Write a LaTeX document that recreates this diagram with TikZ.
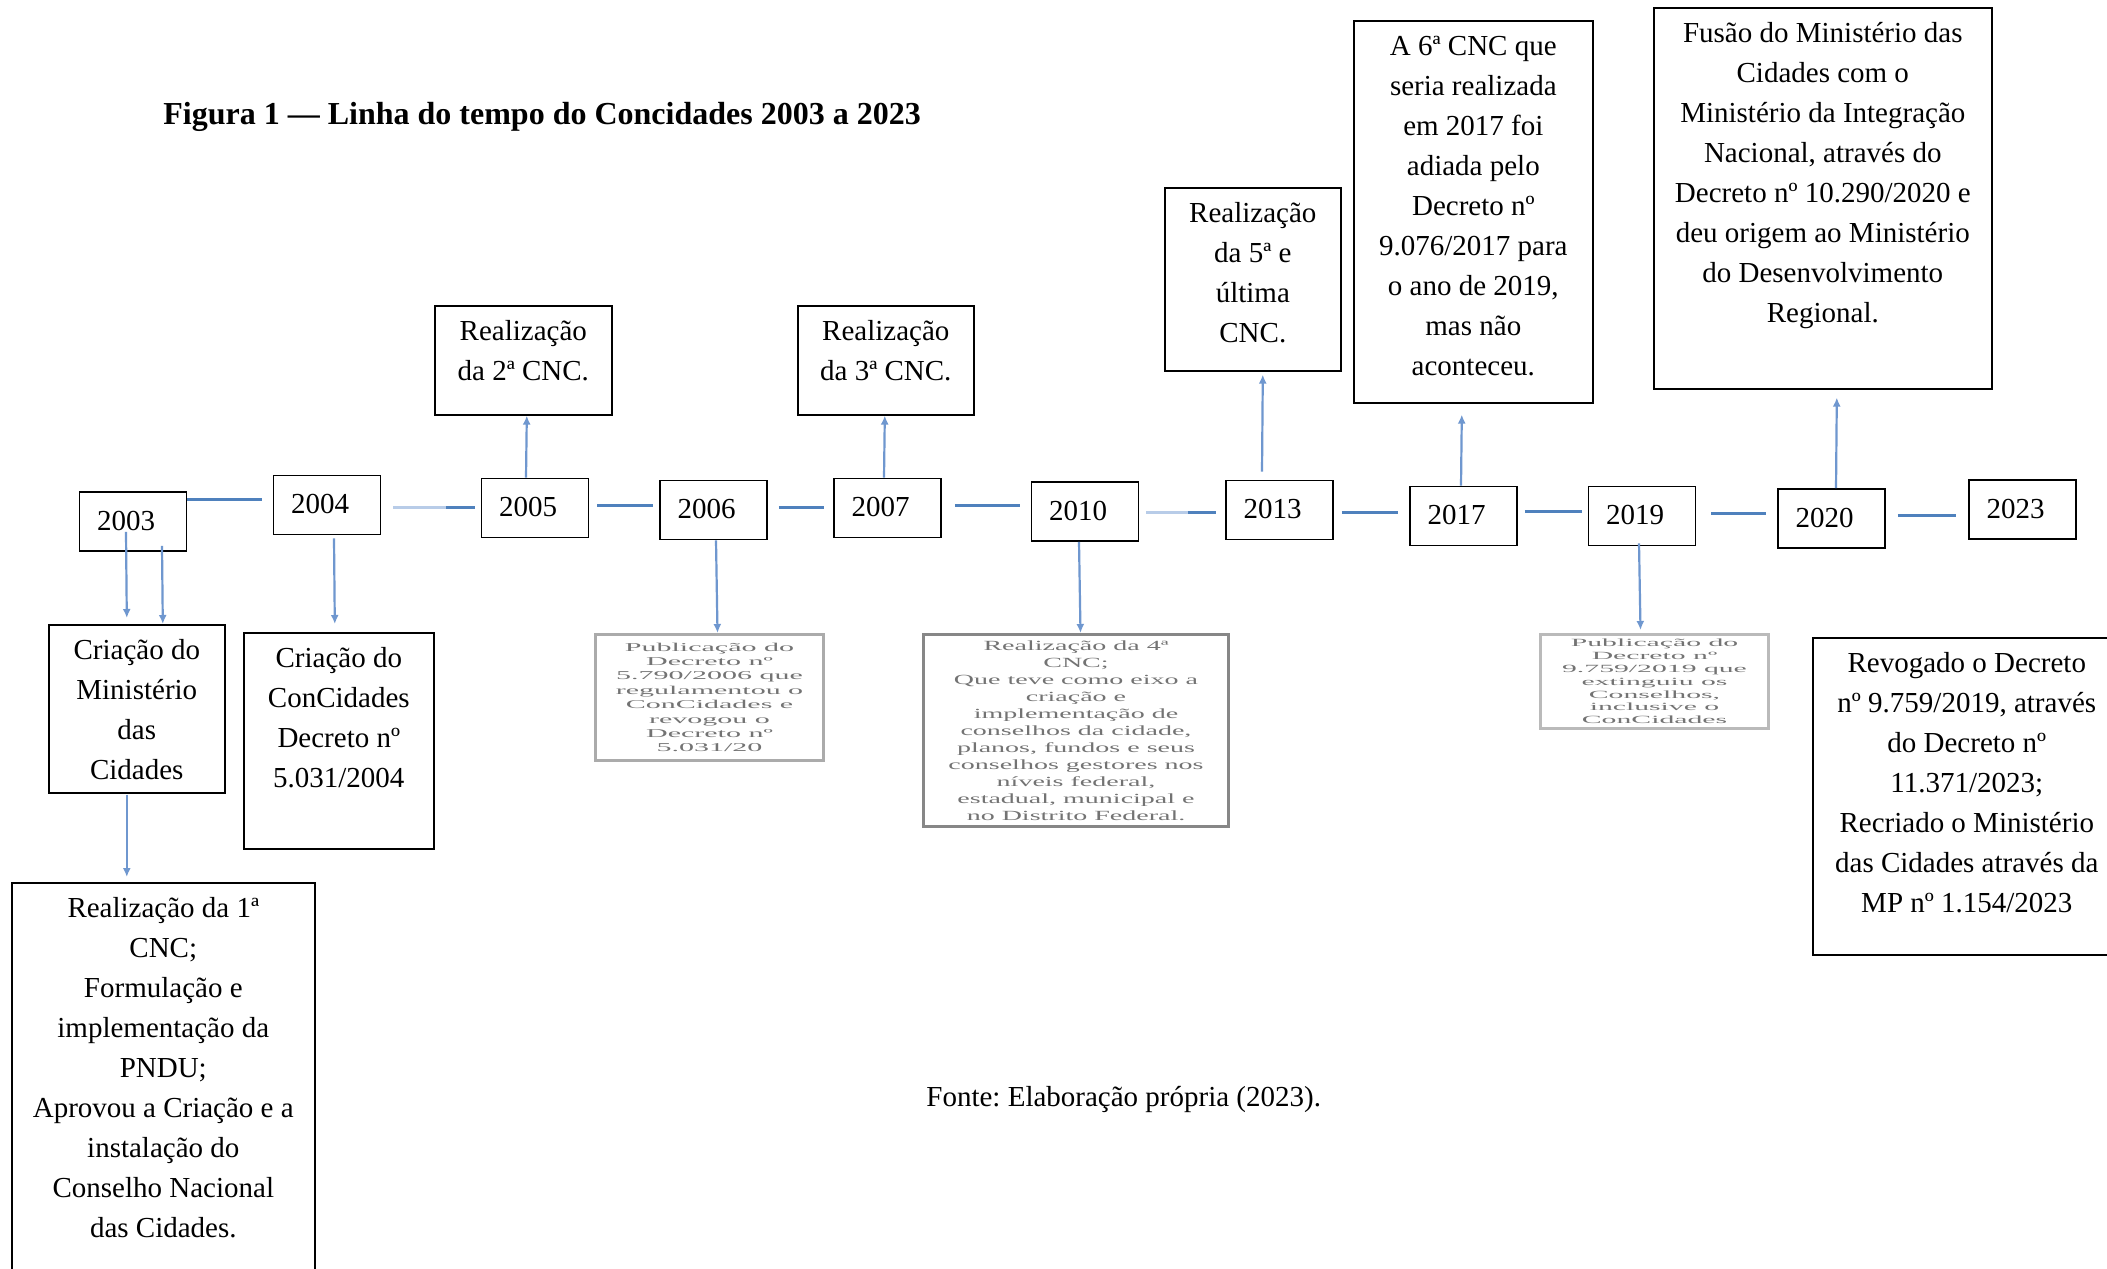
\documentclass[tikz,border=0pt]{standalone}
\usepackage{graphicx}
\usepackage{fontspec}
\setmainfont{Liberation Serif}
\frenchspacing
\usetikzlibrary{calc,arrows.meta}
\definecolor{tlblue}{HTML}{4F81BD}
\definecolor{arblue}{HTML}{6F97CF}
\definecolor{tllight}{HTML}{B8CCE8}
\newcommand{\tb}[3]{\parbox[c][#2][t]{#1}{\centering\rule{0pt}{17.5pt}#3}}
\newcommand{\yt}[1]{\kern-7pt\raisebox{1pt}{#1}}
\tikzset{
 yr/.style={draw, line width=0.8pt, minimum width=53.5pt, minimum height=29.5pt, inner sep=0pt, font=\fontsize{14.5}{20}\selectfont},
 tbox/.style={draw, line width=0.8pt, inner sep=0pt, anchor=north west, font=\fontsize{14.5}{20}\selectfont},
 gbox/.style={draw, line width=1.5pt, inner sep=0pt, anchor=north west, text=black!55},
 tl/.style={draw=tlblue, line width=1.5pt},
 tllt/.style={draw=tllight, line width=1.5pt},
 arr/.style={draw=arblue, line width=1.1pt, -{Latex[length=4.5pt,width=4pt]}},
}
\begin{document}
\begin{tikzpicture}[x=0.5pt,y=-0.5pt]
\useasboundingbox (0,0) rectangle (2107,1268);
\fill[white] (0,0) rectangle (2107,1268);

\node[anchor=west, inner sep=0pt, font=\fontsize{16}{19}\selectfont\bfseries] (title) at (163,117) {Figura 1 — Linha do tempo do Concidades 2003 a 2023};

% year boxes
\node[yr] (y2003) at (133,521.5) {\yt{2003}};
\node[yr] (y2004) at (327,505) {\yt{2004}};
\node[yr] (y2005) at (535,508) {\yt{2005}};
\node[yr] (y2006) at (713.5,510) {\yt{2006}};
\node[yr] (y2007) at (887.5,508) {\yt{2007}};
\node[yr] (y2010) at (1085,511.5) {\yt{2010}};
\node[yr] (y2013) at (1279.5,510) {\yt{2013}};
\node[yr] (y2017) at (1463.5,516) {\yt{2017}};
\node[yr] (y2019) at (1642,516) {\yt{2019}};
\node[yr] (y2020) at (1831.5,518.5) {\yt{2020}};
\node[yr] (y2023) at (2022.5,509.5) {\yt{2023}};

% text boxes
\node[tbox] (min) at (48,624) {\tb{88pt}{84pt}{Criação do\\Ministério\\das\\Cidades}};
\node[tbox] (cc) at (243,632) {\tb{95pt}{108pt}{Criação do\\ConCidades\\Decreto nº\\5.031/2004}};
\node[tbox] (c1) at (11,882) {\tb{151.5pt}{210pt}{Realização da 1ª\\CNC;\\Formulação e\\implementação da\\PNDU;\\Aprovou a Criação e a\\instalação do\\Conselho Nacional\\das Cidades.}};
\node[tbox] (r2) at (434,305) {\tb{88.5pt}{54.5pt}{Realização\\da 2ª CNC.}};
\node[tbox] (r3) at (797,305) {\tb{88pt}{54.5pt}{Realização\\da 3ª CNC.}};
\node[tbox] (r5) at (1164,187) {\tb{88pt}{91.5pt}{Realização\\da 5ª e\\última\\CNC.}};
\node[tbox] (c6) at (1353,20) {\tb{119.5pt}{191pt}{A 6ª CNC que\\seria realizada\\em 2017 foi\\adiada pelo\\Decreto nº\\9.076/2017 para\\o ano de 2019,\\mas não\\aconteceu.}};
\node[tbox] (fus) at (1653,7) {\tb{169pt}{190.5pt}{Fusão do Ministério das\\Cidades com o\\Ministério da Integração\\Nacional, através do\\Decreto nº 10.290/2020 e\\deu origem ao Ministério\\do Desenvolvimento\\Regional.}};
\node[tbox] (rev) at (1812,637) {\tb{154pt}{158.5pt}{Revogado o Decreto\\nº 9.759/2019, através\\do Decreto nº\\11.371/2023;\\Recriado o Ministério\\das Cidades através da\\MP nº 1.154/2023}};

% grey boxes
\node[gbox, draw=black!33, minimum width=114pt, minimum height=63pt] (d06) at (594,633) {\scalebox{2.5}[1]{\parbox{44pt}{\centering\fontsize{6}{7.2}\selectfont Publicação do\\Decreto nº\\5.790/2006 que\\regulamentou o\\ConCidades e\\revogou o\\Decreto nº\\5.031/20}}};
\node[gbox, draw=black!47, minimum width=152.5pt, minimum height=96pt] (d10) at (922,633) {\scalebox{2.0}[1]{\parbox{74pt}{\centering\fontsize{7}{8.5}\selectfont Realização da 4ª\\CNC;\\Que teve como eixo a\\criação e\\implementação de\\conselhos da cidade,\\planos, fundos e seus\\conselhos gestores nos\\níveis federal,\\estadual, municipal e\\no Distrito Federal.}}};
\node[gbox, draw=black!27, minimum width=114pt, minimum height=47pt] (d19) at (1539,633) {\scalebox{2.7}[1]{\parbox{41pt}{\centering\fontsize{5.5}{6.4}\selectfont Publicação do\\Decreto nº\\9.759/2019 que\\extinguiu os\\Conselhos,\\inclusive o\\ConCidades}}};

\node[anchor=west, inner sep=0pt, font=\fontsize{14.5}{18}\selectfont] (fonte) at (926,1099) {Fonte: Elaboração própria (2023).};

% timeline connectors
\draw[tl] ($(y2003.east)+(0,-22.5)$) -- ($(y2004.west)+(-11,-6)$);
\coordinate (s2a) at ($(y2004.east)+(12,2)$);
\coordinate (s2b) at ($(y2005.west)+(-6,-1)$);
\draw[tllt] (s2a) -- (s2b);
\draw[tl] ($(s2a)!0.65!(s2b)$) -- (s2b);
\draw[tl] ($(y2005.east)+(8,-3)$) -- ($(y2006.west)+(-6,-5)$);
\draw[tl] ($(y2006.east)+(11,-3)$) -- ($(y2007.west)+(-9,-1)$);
\draw[tl] ($(y2007.east)+(13,-3)$) -- ($(y2010.west)+(-11,-6.5)$);
\coordinate (s6a) at ($(y2010.east)+(7,0.5)$);
\coordinate (s6b) at ($(y2013.west)+(-9,2)$);
\draw[tllt] (s6a) -- (s6b);
\draw[tl] ($(s6a)!0.6!(s6b)$) -- (s6b);
\draw[tl] ($(y2013.east)+(8,2)$) -- ($(y2017.west)+(-11,-4)$);
\draw[tl] ($(y2017.east)+(7,-5)$) -- ($(y2019.west)+(-6,-5)$);
\draw[tl] ($(y2019.east)+(15,-3)$) -- ($(y2020.west)+(-11,-5.5)$);
\draw[tl] ($(y2020.east)+(12,-3.5)$) -- ($(y2023.west)+(-12,5.5)$);

% arrows
\draw[arr] ($(y2003.south)+(-7,-20)$) -- ($(min.north)+(-10,-6)$);
\draw[arr] ($(y2003.south)+(29,-6)$) -- ($(min.north)+(26,0)$);
\draw[arr] ($(y2004.south)+(7,3)$) -- ($(cc.north)+(-4,-8)$);
\draw[arr] ($(min.south)+(-10,1)$) -- ($(c1.north)+(-36.5,-5)$);
\draw[arr] ($(y2005.north)+(-9,0)$) -- ($(r2.south)+(3.5,0)$);
\draw[arr] ($(y2006.south)+(2.5,0)$) -- ($(d06.north)+(8,0)$);
\draw[arr] ($(y2007.north)+(-3.5,0)$) -- ($(r3.south)+(-1,0)$);
\draw[arr] ($(y2010.south)+(-6,0)$) -- ($(d10.north)+(4.5,0)$);
\draw[arr] ($(y2013.north)+(-17.5,-8)$) -- ($(r5.south)+(10,3)$);
\draw[arr] ($(y2017.north)+(-2.5,0)$) -- ($(c6.south)+(-11.5,11)$);
\draw[arr] ($(y2019.south)+(-3,-3)$) -- ($(d19.north)+(-14,-3)$);
\draw[arr] ($(y2020.north)+(4.5,0)$) -- ($(fus.south)+(14,8)$);
\end{tikzpicture}
\end{document}
